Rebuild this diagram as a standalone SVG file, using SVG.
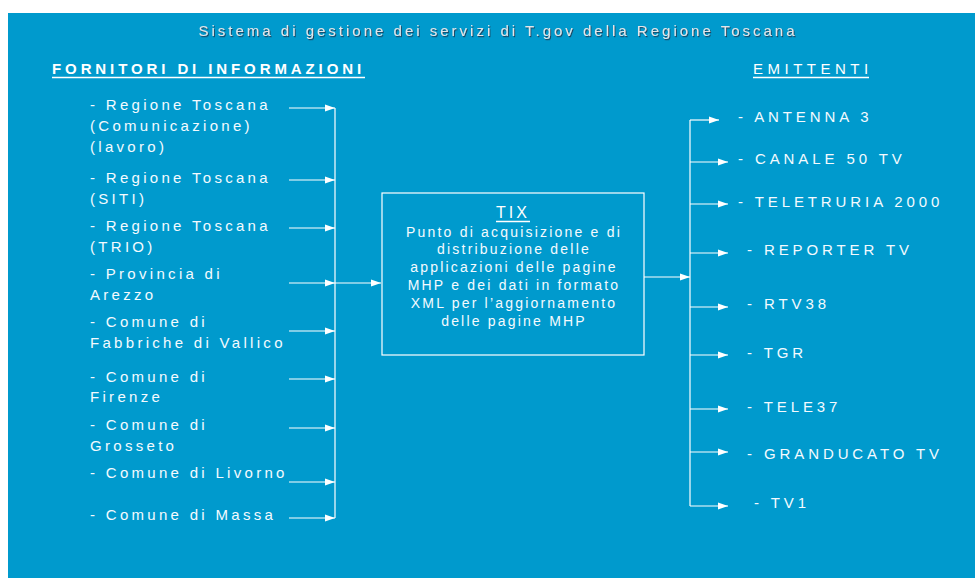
<svg xmlns="http://www.w3.org/2000/svg" width="975" height="578" viewBox="0 0 975 578">
<defs>
<style>
.t{font-family:"Liberation Sans",Arial,sans-serif;font-size:15px;fill:#f4faff;letter-spacing:3.3px}
.r{font-family:"Liberation Sans",Arial,sans-serif;font-size:15px;fill:#f4faff;letter-spacing:3.9px}
.b{font-family:"Liberation Sans",Arial,sans-serif;font-size:14px;fill:#f4faff;letter-spacing:2.2px;text-anchor:middle}
.ln{stroke:#ffffff;stroke-width:1.2;fill:none}
.ar{stroke:#ffffff;stroke-width:1.2;fill:none;marker-end:url(#ah)}
</style>
<marker id="ah" markerUnits="userSpaceOnUse" markerWidth="10" markerHeight="8" refX="10" refY="4" orient="auto">
<path d="M0,0.5 L10,4 L0,7.5 Z" fill="#ffffff"/>
</marker>
<filter id="sh" x="-5%" y="-30%" width="110%" height="160%">
<feDropShadow dx="1" dy="1.2" stdDeviation="0.3" flood-color="#1c3b55" flood-opacity="0.9"/>
</filter>
</defs>
<rect x="8" y="13" width="967" height="565" fill="#009ACD"/>
<g id="title">
<text x="498" y="36" text-anchor="middle" filter="url(#sh)" style="font-family:'Liberation Sans',Arial,sans-serif;font-size:15px;fill:#e2e6ea;letter-spacing:3px">Sistema di gestione dei servizi di T.gov della Regione Toscana</text>
</g>
<g id="header-fornitori">
<text x="52" y="74" style="font-family:'Liberation Sans',Arial,sans-serif;font-size:15px;font-weight:bold;fill:#ffffff;letter-spacing:3.9px">FORNITORI DI INFORMAZIONI</text>
<line x1="52" y1="77.5" x2="365" y2="77.5" stroke="#ffffff" stroke-width="1.6"/>
</g>
<g id="header-emittenti">
<text x="753" y="74" style="font-family:'Liberation Sans',Arial,sans-serif;font-size:15px;fill:#ffffff;letter-spacing:4.5px">EMITTENTI</text>
<line x1="753" y1="77.5" x2="869" y2="77.5" stroke="#ffffff" stroke-width="1.6"/>
</g>
<g id="fornitori">
<g id="f1"><text class="t" x="90" y="110">- Regione Toscana</text><text class="t" x="90" y="131">(Comunicazione)</text><text class="t" x="90" y="152">(lavoro)</text></g>
<g id="f2"><text class="t" x="90" y="183">- Regione Toscana</text><text class="t" x="90" y="204">(SITI)</text></g>
<g id="f3"><text class="t" x="90" y="231">- Regione Toscana</text><text class="t" x="90" y="252">(TRIO)</text></g>
<g id="f4"><text class="t" x="90" y="279">- Provincia di</text><text class="t" x="90" y="300">Arezzo</text></g>
<g id="f5"><text class="t" x="90" y="327">- Comune di</text><text class="t" x="90" y="348">Fabbriche di Vallico</text></g>
<g id="f6"><text class="t" x="90" y="382">- Comune di</text><text class="t" x="90" y="402">Firenze</text></g>
<g id="f7"><text class="t" x="90" y="430">- Comune di</text><text class="t" x="90" y="451">Grosseto</text></g>
<g id="f8"><text class="t" x="90" y="478">- Comune di Livorno</text></g>
<g id="f9"><text class="t" x="90" y="520">- Comune di Massa</text></g>
</g>
<g id="tix">
<rect x="382" y="193" width="262" height="162" fill="none" stroke="#ffffff" stroke-width="1.2"/>
<text x="513" y="218" text-anchor="middle" style="font-family:'Liberation Sans',Arial,sans-serif;font-size:16px;fill:#ffffff;letter-spacing:3px">TIX</text>
<line x1="496" y1="221.5" x2="530" y2="221.5" stroke="#ffffff" stroke-width="1.3"/>
<text class="b" x="514" y="237">Punto di acquisizione e di</text>
<text class="b" x="514" y="254">distribuzione delle</text>
<text class="b" x="514" y="272">applicazioni delle pagine</text>
<text class="b" x="514" y="290">MHP e dei dati in formato</text>
<text class="b" x="514" y="308">XML per l’aggiornamento</text>
<text class="b" x="514" y="326">delle pagine MHP</text>
</g>
<g id="emittenti">
<g id="e1"><text class="r" x="738" y="122">- ANTENNA 3</text></g>
<g id="e2"><text class="r" x="738" y="164">- CANALE 50 TV</text></g>
<g id="e3"><text class="r" x="738" y="207">- TELETRURIA 2000</text></g>
<g id="e4"><text class="r" x="747" y="255">- REPORTER TV</text></g>
<g id="e5"><text class="r" x="747" y="309">- RTV38</text></g>
<g id="e6"><text class="r" x="747" y="358">- TGR</text></g>
<g id="e7"><text class="r" x="747" y="412">- TELE37</text></g>
<g id="e8"><text class="r" x="747" y="459">- GRANDUCATO TV</text></g>
<g id="e9"><text class="r" x="754" y="508">- TV1</text></g>
</g>
<g id="connectors">
<line class="ar" x1="289" y1="108" x2="335" y2="108"/>
<line class="ar" x1="289" y1="180" x2="335" y2="180"/>
<line class="ar" x1="289" y1="228" x2="335" y2="228"/>
<line class="ar" x1="289" y1="283" x2="335" y2="283"/>
<line class="ar" x1="289" y1="331" x2="335" y2="331"/>
<line class="ar" x1="289" y1="379" x2="335" y2="379"/>
<line class="ar" x1="289" y1="428" x2="335" y2="428"/>
<line class="ar" x1="289" y1="482" x2="335" y2="482"/>
<line class="ar" x1="289" y1="518" x2="335" y2="518"/>
<line class="ln" x1="335" y1="108" x2="335" y2="518"/>
<line class="ar" x1="335" y1="283" x2="381" y2="283"/>
<line class="ar" x1="644" y1="277" x2="690" y2="277"/>
<line class="ln" x1="690" y1="120" x2="690" y2="506"/>
<line class="ar" x1="690" y1="120" x2="719" y2="120"/>
<line class="ar" x1="690" y1="162" x2="728" y2="162"/>
<line class="ar" x1="690" y1="204" x2="728" y2="204"/>
<line class="ar" x1="690" y1="253" x2="728" y2="253"/>
<line class="ar" x1="690" y1="307" x2="728" y2="307"/>
<line class="ar" x1="690" y1="355" x2="728" y2="355"/>
<line class="ar" x1="690" y1="409" x2="728" y2="409"/>
<line class="ar" x1="690" y1="452" x2="728" y2="452"/>
<line class="ar" x1="690" y1="506" x2="728" y2="506"/>
</g>
</svg>
